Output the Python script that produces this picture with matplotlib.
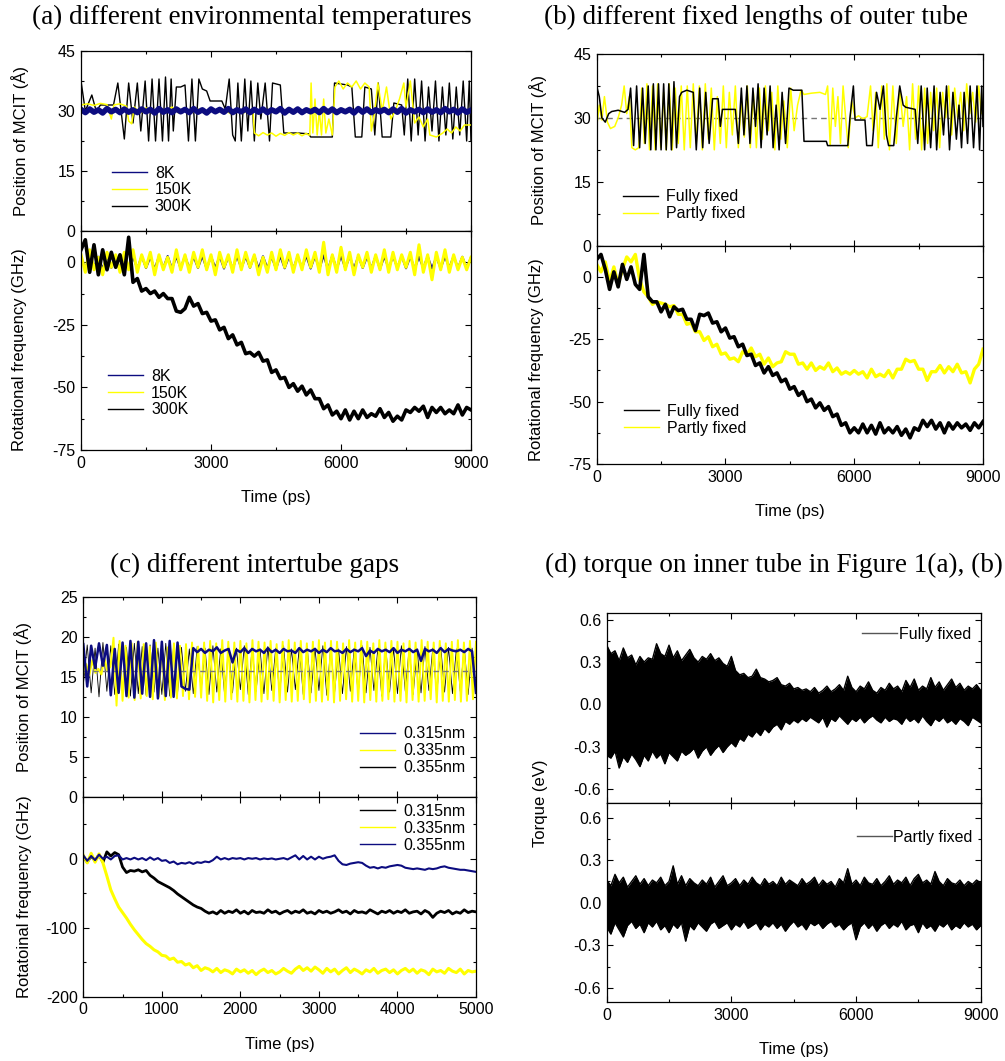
import numpy as np
import matplotlib
matplotlib.use("Agg")
import matplotlib.pyplot as plt
from matplotlib.ticker import MultipleLocator, FormatStrFormatter

plt.rcParams['font.family'] = ['Liberation Sans', 'DejaVu Sans']
plt.rcParams['axes.unicode_minus'] = False

NAVY = '#0c0c80'
YELLOW = '#ffff00'

# ---------------- (a) environmental temperatures ----------------
# position of MCIT, 300K (turning points)
a_pos_300_t = [0, 100, 250, 350, 450, 750, 850, 1000, 1100, 1200, 1300, 1380, 1480, 1560, 1640, 1720,
               1800, 1880, 1950, 2020, 2080, 2130, 2200, 2300, 2400, 2480, 2560, 2640, 2720, 2800, 2900,
               2980, 3250, 3330, 3420, 3500, 3560, 3620, 3700, 3780, 3850, 3920, 4000, 4080, 4150, 4250,
               4350, 4420, 4600, 4680, 5000, 5250, 5300, 5800, 5850, 6150, 6250, 6330, 6480, 6550, 6700,
               6780, 6860, 6950, 7150, 7220, 7400, 7460, 7540, 7620, 7700, 7780, 7860, 7940, 8020, 8100,
               8180, 8260, 8340, 8420, 8500, 8580, 8660, 8740, 8820, 8900, 8960, 9000]
a_pos_300 = [37.5, 30, 34, 30, 31.5, 31.5, 37, 23, 37, 27, 37, 25, 37.5, 22.5, 38, 22.5,
             38, 22.5, 38.5, 22.5, 38, 25, 36, 36, 36.5, 22.5, 38, 22.5, 38, 35.5, 35,
             32.5, 32.5, 30.5, 38, 24, 22.5, 37, 22.5, 38, 25, 37.5, 22.5, 37, 28, 37,
             22.5, 37, 36.5, 24.5, 24.5, 24.3, 23.5, 23.5, 37, 36.5, 36, 23.5, 23.5, 36, 35.5,
             24, 37, 23.5, 23.5, 32, 31.5, 24, 38, 22.5, 38, 24, 37.5, 22.5, 36, 25,
             37.5, 22.5, 36, 24, 37, 23, 36, 24, 37.5, 22.5, 37.5, 22.5]
# position of MCIT, 150K (turning points)
a_pos_150_t = [0, 150, 300, 450, 600, 700, 760, 900, 1050, 1100, 1170, 1230, 1300, 1400, 1500, 1650,
               1800, 1950, 2100, 2250, 2400, 2550, 2700, 2850, 3000, 3150, 3300, 3450, 3600, 3750, 3900,
               3970, 4000, 4100, 4200, 4300, 4400, 4500, 4600, 4700, 4800, 4900, 5000, 5100, 5200, 5250,
               5280, 5310, 5350, 5400, 5450, 5500, 5550, 5600, 5650, 5720, 5800, 5860, 5950, 6050, 6150,
               6250, 6350, 6450, 6550, 6650, 6700, 6780, 6850, 6950, 7050, 7150, 7250, 7350, 7450, 7500,
               7600, 7700, 7800, 7900, 8000, 8050, 8200, 8350, 8450, 8550, 8650, 8750, 8850, 9000]
a_pos_150 = [31.5, 31.8, 31.4, 31.9, 31.6, 28, 31.5, 31.8, 31.2, 27.5, 26.8, 31, 30.2, 29.6, 30.8, 29.4,
             30.6, 29.8, 31, 29.5, 30.7, 29.6, 30.5, 29.4, 30.8, 29.7, 30.4, 29.3, 30.6, 29.5, 30.3,
             29.8, 24.5, 23.8, 24.6, 24, 24.5, 23.7, 24.4, 23.9, 24.6, 24, 24.5, 23.8, 24.4, 24,
             24, 37, 24.5, 33, 24, 30, 24, 33, 24.5, 28, 24, 36, 37.5, 35.5, 37,
             36, 37.5, 35.5, 37, 36, 25, 30, 37, 30, 36, 28, 30, 33, 37, 31,
             37.5, 27, 28.5, 26, 28, 24, 23.5, 24.5, 25.5, 24.5, 26, 25, 26.5, 26.5]
# position of MCIT, 8K (every 100 ps)
a_pos_8 = [30.4, 29.6, 30.5, 29.7, 30.3, 29.5, 30.6, 29.8, 30.4, 29.6,
           30.5, 29.7, 30.3, 29.6, 30.5, 29.8, 30.4, 29.5, 30.6, 29.7,
           30.3, 29.6, 30.5, 29.8, 30.4, 29.6, 30.6, 29.7, 30.3, 29.5,
           30.5, 29.8, 30.4, 29.7, 30.6, 29.6, 30.3, 29.8, 30.5, 29.6,
           30.4, 29.7, 30.5, 29.6, 30.3, 29.8, 30.6, 29.5, 30.4, 29.7,
           30.5, 29.6, 30.3, 29.8, 30.4, 29.6, 30.6, 29.7, 30.5, 29.6,
           30.3, 29.8, 30.4, 29.5, 30.6, 29.7, 30.5, 29.6, 30.3, 29.8,
           30.4, 29.6, 30.5, 29.7, 30.6, 29.5, 30.3, 29.8, 30.4, 29.6,
           30.5, 29.7, 30.3, 29.6, 30.6, 29.8, 30.4, 29.5, 30.5, 29.7, 30.2]
# rotational frequency (GHz), every 100 ps
a_rot_8 = [2, -2.5, 2.5, -2, 2.2, -2.6, 2.4, -2.2, 2, -2.5,
           2.6, -2.4, 2.2, -2.6, 2.5, -2.3, 2.1, -2.7, 2.4, -2.2,
           2.5, -2.6, 2.3, -2.4, 2.6, -2.5, 2.2, -2.3, 2.5, -2.6,
           2.3, -2.2, 2.4, -2.5, 2.2, -2.6, 2.5, -2.4, 2.3, -2.2,
           2.6, -2.5, 2.4, -2.3, 2.2, -2.6, 2.5, -2.4, 2.3, -2.5,
           2.4, -2.2, 2.6, -2.5, 2.5, -2.7, 2.8, -2.9, 2.7, -2.8,
           2.6, -2.4, 2.3, -2.5, 2.5, -2.3, 2.2, -2.4, 2.5, -2.6,
           2.3, -2.5, 2.4, -2.2, 2.5, -2.4, 2.3, -2.6, 2.2, -2.3,
           2.4, -2.5, 2.2, -2.4, 2.3, -2.2, 2.5, -2.4, 2.2, -2.3, 2]
a_rot_150 = [3, -4, 5, -3, 2, -5, 4, -2, 3, -4,
             4, -3, 5, -4, 3, -2, 4, -5, 3, -3,
             2, -4, 5, -3, 3, -4, 4, -2, 5, -3,
             3, -5, 4, -2, 3, -4, 5, -3, 4, -2,
             3, -5, 2, -4, 4, -3, 5, -2, 4, -4,
             3, -3, 5, -2, 4, -4, 8, -5, 3, -4,
             6, -3, 4, -5, 3, -2, 4, -4, 3, -3,
             5, -4, 4, -3, 3, -2, 4, -5, 7, -4,
             3, -7, 4, -3, 5, -4, 3, -3, 2, -3, 2]
a_rot_300 = [5, 9, -4, 7, -5, 5, -3, 4, -2, 3,
             -5, 10, -8, -6.5, -11.5, -10.5, -12.5, -11.5, -14, -12.5,
             -14.5, -14.5, -19.5, -20, -18.5, -14, -17.5, -16.5, -20.5, -20,
             -23.5, -23, -27, -26, -30.5, -29, -33, -32, -36.5, -36,
             -37.5, -36, -39.5, -39, -44, -43, -46.5, -46, -50, -48.5,
             -51.5, -49.5, -53, -51, -54.5, -54.5, -58.5, -57, -61, -59.5,
             -62.5, -59, -63, -59.5, -62.5, -59, -62, -60.5, -61.5, -58.5,
             -62, -60, -63.5, -61.5, -63, -59, -60, -58, -59.5, -57.5,
             -62, -58, -60, -58, -60.5, -59, -60.5, -57, -61, -58, -59]

# ---------------- (b) fixed lengths of outer tube ----------------
b_pos_full_t = [0, 60, 120, 200, 280, 350, 500, 650, 730, 790, 860, 930, 1000, 1070, 1130, 1200,
                1260, 1320, 1380, 1440, 1500, 1560, 1620, 1680, 1740, 1800, 1860, 1930, 1980, 2100,
                2250, 2320, 2400, 2470, 2540, 2620, 2700, 2830, 2880, 2930, 3230, 3300, 3370, 3430,
                3500, 3570, 3640, 3700, 3760, 3830, 3900, 3970, 4040, 4110, 4180, 4250, 4320, 4400,
                4480, 4580, 4780, 4830, 5350, 5380, 5850, 5900, 5980, 6020, 6250, 6290, 6420, 6520,
                6600, 6680, 6750, 6800, 6920, 6980, 7060, 7140, 7200, 7420, 7480, 7560, 7640, 7700,
                7780, 7860, 7920, 8000, 8080, 8150, 8220, 8300, 8380, 8440, 8500, 8560, 8640, 8700,
                8780, 8860, 8920, 8970, 9000]
b_pos_full = [37.5, 35, 30, 29, 31, 31.5, 31.8, 31.3, 32, 37, 23.5, 37.5, 23, 37, 24, 37.5,
              22.5, 38, 22.5, 38, 22.5, 38, 22.5, 38, 22.5, 38.5, 23, 35, 36, 36.5,
              36, 22.5, 37, 23, 36, 24, 34.5, 34.5, 28, 32, 32, 24, 37, 26,
              37.5, 24, 37, 28, 38, 23, 37, 26, 37.5, 23, 33, 22.5, 36, 24,
              37, 36.5, 36.5, 24.5, 24.5, 23.5, 23.5, 30, 37.5, 29.5, 29.5, 23.5, 23.5, 36,
              32, 37.5, 26, 23.5, 23.5, 30, 37.5, 33, 32.5, 32, 24, 37.5, 22.5, 37,
              23, 37.5, 22.5, 36, 26, 37.5, 22.5, 36, 25, 33, 23, 36, 24, 37.5,
              23, 37.5, 22.5, 37.5, 28]
b_pos_part_t = [0, 60, 120, 180, 250, 320, 420, 500, 580, 640, 700, 760, 820, 900, 980, 1050,
                1110, 1170, 1230, 1300, 1360, 1420, 1490, 1560, 1620, 1690, 1760, 1830, 1900, 1970,
                2040, 2110, 2180, 2250, 2320, 2390, 2460, 2530, 2600, 2670, 2740, 2810, 2880, 2950,
                3020, 3090, 3160, 3230, 3300, 3370, 3440, 3510, 3580, 3650, 3720, 3790, 3860, 3930,
                4000, 4080, 4150, 4220, 4290, 4360, 4440, 4520, 4600, 4680, 4760, 4830, 5000, 5200,
                5330, 5380, 5440, 5500, 5560, 5620, 5680, 5740, 5800, 5860, 5940, 6020, 6100, 6200,
                6300, 6380, 6440, 6500, 6560, 6640, 6700, 6760, 6820, 6900, 6980, 7060, 7140, 7220,
                7290, 7360, 7430, 7500, 7570, 7640, 7710, 7780, 7850, 7920, 7990, 8060, 8130, 8200,
                8270, 8340, 8410, 8480, 8550, 8620, 8690, 8760, 8830, 8900, 8960, 9000]
b_pos_part = [28, 33, 29.5, 35, 29, 27.5, 28, 30, 33, 37.5, 31, 35, 23, 22.5, 23, 37,
              24, 38, 22.5, 37.5, 22.5, 38, 23, 36, 22.5, 38, 22.5, 37, 24, 37.5,
              22.5, 37.5, 23, 38, 24, 37.5, 22.5, 38, 25, 37, 22.5, 35, 24, 37.5,
              23, 36, 26, 37.5, 23, 34, 25.5, 37.5, 23, 36, 23, 37, 25, 37.5,
              27, 36, 22.5, 37.5, 25, 34, 23, 37, 27, 33, 36.5, 35.5, 35.8, 36,
              35.5, 37.5, 23.5, 37, 28, 35, 24, 37.5, 30, 23, 34, 30, 30.5, 29.8,
              30.3, 37.5, 27, 36, 23, 37.5, 25, 38, 22.5, 37.5, 24, 37, 28, 35,
              22.5, 38, 25, 37.5, 22.5, 37, 24, 36, 27, 37, 23, 36, 30, 37.5,
              26, 37, 30, 36, 27, 38, 31, 36, 29, 37.5, 31, 32.5]
b_rot_full = [7, 9, 3, -5, 2, -4, 5, -1, 4, -3,
              -5, 9, -8, -10, -10, -14, -11, -16, -12, -13.5,
              -13, -17, -17, -21.5, -15, -15.5, -14.5, -18.5, -18, -22,
              -20.5, -24.5, -24, -28, -27, -31.5, -31, -35.5, -34.5, -38.5,
              -36, -39.5, -38.5, -42, -41, -45, -44, -47.5, -46, -50,
              -49, -52.5, -50.5, -53.5, -52, -56, -55, -59.5, -58.5, -62.5,
              -60.5, -62.5, -59, -62.5, -59.5, -63, -58.5, -62.5, -60.5, -62.5,
              -60, -63.5, -61, -64.5, -60.5, -61.5, -57.5, -60, -57.5, -61,
              -58.5, -62.5, -58.5, -61, -58.5, -60.5, -59, -61.5, -58.5, -60.5, -58]
b_rot_part = [5, 2, 6, -2, 4, -3, 3, 8, 6, 9,
              -1, -6, -8, -11, -10, -10.5, -11, -12, -11.5, -15,
              -15, -19, -18.5, -22, -22, -25.5, -24, -28, -27, -31,
              -30.5, -33, -32.5, -34, -30, -31, -28.5, -32, -31, -35,
              -32.5, -36, -34.5, -34, -30, -31, -31, -35, -34.5, -37,
              -34.5, -37.5, -36, -37, -34.5, -38, -36.5, -39, -38, -39,
              -37.5, -39, -38, -40.5, -37, -40, -39, -40, -37.5, -40.5,
              -37, -37, -33, -34, -33.5, -37, -37, -41.5, -38, -38,
              -35.5, -38.5, -36, -38, -35, -38.5, -38, -42.5, -37, -35, -29]

# ---------------- (c) intertube gaps ----------------
c_pos_335 = [15.4, 16.6, 15.2, 17.1, 15.5, 16.0, 15.3, 17.4, 15.7, 16.3,
             19.9, 11.4, 19.5, 12.0, 18.9, 12.4, 19.2, 12.1, 19.4,
             12.3, 19.1, 12.6, 18.8, 12.2, 19.3, 12.5, 19.0, 12.1, 18.7, 12.4, 19.2, 12.3, 18.9,
             12.6, 19.1, 12.2, 19.3, 12.5, 18.8, 12.4,
             19.3, 12.0, 19.5, 11.8, 19.2, 12.1, 19.6, 11.9, 19.4, 12.2, 19.3, 11.9, 19.5, 12.0,
             19.2, 11.8, 19.6, 12.1, 19.4, 11.9, 19.3, 12.2, 19.5, 12.0, 19.1, 11.8, 19.4, 12.1,
             19.6, 11.9, 19.3, 12.0, 19.5, 12.2, 19.2, 11.8, 19.4, 12.0, 19.6, 11.9, 19.3, 12.1,
             19.5, 11.8, 19.4, 12.0, 19.2, 12.2, 19.6, 11.9, 19.3, 12.0, 19.5, 11.8, 19.4, 12.1,
             19.2, 11.9, 19.6, 12.0, 19.3, 12.2, 19.5, 11.9, 19.4, 12.0, 19.2, 11.8, 19.5, 12.1,
             19.3, 11.9, 19.6, 12.0, 19.4, 12.2, 19.3, 11.8, 19.5, 12.0, 19.2, 11.9, 19.4, 12.1,
             19.6, 11.9, 19.3, 12.0, 19.5, 12.2, 19.4]
c_pos_315 = [19.1, 13.8, 18.9, 16.1, 19.2, 16.4, 19.0, 12.7, 18.5, 13.0, 19.3, 12.6, 19.5,
             12.4, 19.4, 12.9, 19.2, 12.5, 19.6, 12.3, 19.4, 12.6, 19.5, 12.5, 19.3,
             13.8, 13.5, 13.4,
             18.6, 18.1, 18.5, 18.0, 18.4, 18.2, 18.7, 18.0, 18.3, 18.5,
             16.8, 18.4, 18.1, 18.6, 18.0, 18.5, 18.2, 18.4, 18.0, 18.6,
             18.1, 18.4, 18.0, 18.5, 18.2, 18.3, 18.0, 18.6, 18.1, 18.4,
             18.2, 18.5, 18.0, 18.4, 18.1, 18.6, 18.2, 18.3, 18.0, 18.5,
             18.1, 18.4, 18.2, 18.6, 17.6, 18.3, 18.0, 18.5, 18.2, 18.4,
             18.1, 18.6, 18.0, 18.4, 18.2, 18.5, 18.1, 18.4, 17.0, 18.5,
             18.2, 18.4, 18.0, 18.6, 18.1, 18.5, 18.3, 18.2, 18.4, 18.1,
             18.5, 18.2, 13.0]
c_pos_355 = [14.0, 19.0, 13.0, 18.6, 12.5, 19.3, 13.2, 18.9, 12.8, 19.1, 13.0, 18.7, 12.6,
             19.2, 12.9, 18.8, 12.7, 19.0, 13.1, 18.6, 12.8, 19.2, 12.6, 18.9, 13.0, 18.7,
             13.2, 18.5, 12.9, 18.8, 13.3, 18.6, 12.8, 18.9, 13.1, 18.5, 12.7, 18.8, 13.0,
             18.6, 13.4, 18.9, 12.8, 18.7, 13.2, 18.5, 12.9, 18.8, 13.3, 18.6, 12.7, 18.9,
             13.1, 18.5, 13.4, 18.7, 12.8, 18.8, 13.0, 18.6, 13.3, 18.9, 12.7, 18.7, 13.1,
             18.5, 12.9, 18.8, 13.2, 18.6, 12.8, 18.9, 13.0, 18.7, 13.3, 18.5, 12.6, 18.8,
             13.1, 18.6, 12.9, 18.9, 13.2, 18.7, 12.8, 18.5, 13.0, 18.8, 13.3, 18.6, 12.7,
             18.9, 13.1, 18.7, 12.9, 18.5, 13.2, 18.8, 12.8, 18.6, 13.0]
c_rot_355 = [5, -3, 4, -2, 6, 0, 3, -1, 4, 5, -1, 1, -1, 1.5, -1, 1, -2, 2, -1.5, 1,
             -3, -2, -6, -4, -8, -6, -7, -5, -7.5, -5, -6, -4, -5, -2, 3, -1, 1, -1, 1, 0,
             1, -1, 1, 0, 1, -1, 0.5, -0.5, 0.5, -1, 0, 1, -1, 2, 5, -1, 4, -1, 3, -1,
             3, 0, 2, 3, 5, -3, -8, -9, -7, -6, -5, -6, -10, -13, -12, -14, -12, -13, -11, -10,
             -9, -10, -13, -14, -15, -14, -15, -16, -14, -15, -14, -12, -11, -13, -14, -15, -16, -16,
             -17, -18, -19]
c_rot_315 = [3, -5, 4, -3, 6, -5, 10, 4, 9, 6, -12, -20, -17, -18, -16, -19, -17, -24, -28, -33,
             -36, -39, -42, -46, -51, -55, -59, -63, -67, -70, -72, -76, -79, -77, -80, -75, -79, -76, -78, -74,
             -79, -76, -80, -75, -78, -77, -79, -74, -78, -76, -80, -77, -75, -79, -76, -78, -74, -79, -77, -80,
             -75, -78, -76, -79, -77, -74, -78, -76, -80, -75, -78, -77, -79, -74, -77, -80, -76, -78, -75, -79,
             -76, -78, -74, -79, -77, -76, -80, -75, -78, -85, -79, -76, -78, -75, -80, -77, -79, -74, -78, -76,
             -77]
c_rot_335 = [5, -6, 8, -5, 7, -6, -25, -45, -58, -70, -78, -86, -95, -103, -110, -117, -123, -127, -132, -135,
             -140, -141, -146, -144, -150, -149, -154, -152, -158, -155, -162, -158, -160, -164, -159, -165, -161, -163, -167, -160,
             -164, -161, -166, -162, -168, -163, -160, -165, -162, -167, -164, -159, -163, -166, -160, -156, -162, -158, -163, -157,
             -161, -166, -159, -164, -160, -167, -162, -158, -165, -160, -163, -167, -161, -164, -159, -166, -162, -160, -165, -161,
             -167, -162, -159, -164, -160, -166, -161, -163, -168, -160, -164, -162, -166, -159, -163, -165, -160, -167, -162, -164,
             -163]

# ---------------- (d) torque on inner tube (envelopes, every 100 ps) ----------------
d_full_hi = [0.42, 0.36, 0.38, 0.31, 0.40, 0.33, 0.35, 0.28, 0.34, 0.30,
             0.33, 0.32, 0.43, 0.36, 0.34, 0.42, 0.33, 0.38, 0.31, 0.35,
             0.39, 0.33, 0.30, 0.34, 0.32, 0.36, 0.31, 0.33, 0.29, 0.27,
             0.34, 0.24, 0.21, 0.22, 0.19, 0.20, 0.25, 0.19, 0.18, 0.16,
             0.17, 0.19, 0.14, 0.13, 0.15, 0.11, 0.12, 0.10, 0.11, 0.09,
             0.12, 0.08, 0.10, 0.13, 0.09, 0.11, 0.14, 0.10, 0.20, 0.12,
             0.09, 0.13, 0.11, 0.16, 0.10, 0.08, 0.12, 0.10, 0.15, 0.11,
             0.13, 0.09, 0.17, 0.12, 0.18, 0.10, 0.13, 0.11, 0.19, 0.12,
             0.16, 0.10, 0.14, 0.18, 0.12, 0.15, 0.10, 0.13, 0.11, 0.14, 0.10]
d_full_lo = [-0.36, -0.38, -0.33, -0.45, -0.37, -0.41, -0.35, -0.39, -0.44, -0.36,
             -0.40, -0.33, -0.38, -0.35, -0.42, -0.34, -0.37, -0.40, -0.33, -0.36,
             -0.34, -0.31, -0.38, -0.33, -0.30, -0.36, -0.32, -0.29, -0.34, -0.30,
             -0.27, -0.30, -0.24, -0.26, -0.21, -0.23, -0.19, -0.22, -0.17, -0.20,
             -0.16, -0.14, -0.18, -0.12, -0.14, -0.11, -0.13, -0.10, -0.12, -0.09,
             -0.11, -0.13, -0.09, -0.16, -0.10, -0.12, -0.08, -0.11, -0.14, -0.10,
             -0.12, -0.09, -0.13, -0.10, -0.08, -0.11, -0.13, -0.09, -0.12, -0.10,
             -0.11, -0.14, -0.09, -0.12, -0.10, -0.13, -0.08, -0.12, -0.15, -0.10,
             -0.12, -0.09, -0.13, -0.11, -0.14, -0.10, -0.12, -0.15, -0.09, -0.11, -0.13]
d_part_hi = [0.16, 0.12, 0.20, 0.14, 0.18, 0.11, 0.15, 0.19, 0.13, 0.17,
             0.12, 0.16, 0.14, 0.18, 0.12, 0.15, 0.26, 0.13, 0.19, 0.12,
             0.17, 0.14, 0.12, 0.16, 0.13, 0.18, 0.11, 0.15, 0.19, 0.12,
             0.14, 0.17, 0.12, 0.16, 0.13, 0.18, 0.14, 0.12, 0.17, 0.13,
             0.15, 0.12, 0.18, 0.13, 0.16, 0.14, 0.12, 0.17, 0.13, 0.15,
             0.18, 0.12, 0.16, 0.13, 0.15, 0.11, 0.17, 0.14, 0.24, 0.13,
             0.16, 0.12, 0.18, 0.14, 0.13, 0.17, 0.12, 0.15, 0.19, 0.13,
             0.16, 0.14, 0.18, 0.12, 0.17, 0.20, 0.14, 0.16, 0.13, 0.22,
             0.15, 0.12, 0.17, 0.14, 0.13, 0.16, 0.12, 0.15, 0.13, 0.16, 0.14]
d_part_lo = [-0.17, -0.22, -0.14, -0.19, -0.24, -0.16, -0.13, -0.18, -0.15, -0.21,
             -0.14, -0.17, -0.13, -0.19, -0.16, -0.21, -0.15, -0.18, -0.14, -0.27,
             -0.16, -0.19, -0.14, -0.17, -0.20, -0.15, -0.13, -0.18, -0.16, -0.14,
             -0.19, -0.15, -0.17, -0.13, -0.18, -0.16, -0.14, -0.19, -0.15, -0.17,
             -0.14, -0.18, -0.15, -0.20, -0.16, -0.13, -0.17, -0.15, -0.19, -0.14,
             -0.16, -0.14, -0.18, -0.15, -0.13, -0.17, -0.15, -0.19, -0.16, -0.14,
             -0.26, -0.17, -0.14, -0.18, -0.15, -0.20, -0.16, -0.14, -0.18, -0.15,
             -0.17, -0.13, -0.19, -0.16, -0.15, -0.21, -0.14, -0.18, -0.16, -0.20,
             -0.15, -0.17, -0.14, -0.19, -0.16, -0.18, -0.14, -0.17, -0.15, -0.19, -0.16]

W, H = 1005, 1061
fig = plt.figure(figsize=(W / 100, H / 100), dpi=100)


def box(x0, x1, y0, y1):
    # pixel box -> figure fraction
    return [x0 / W, 1 - y1 / H, (x1 - x0) / W, (y1 - y0) / H]


def style(ax, xmax, xmaj, ylim, ymaj, fmt=None, xlabels=True):
    ax.set_xlim(0, xmax)
    ax.set_ylim(*ylim)
    ax.xaxis.set_major_locator(MultipleLocator(xmaj))
    ax.xaxis.set_minor_locator(MultipleLocator(xmaj / 2))
    ax.yaxis.set_major_locator(MultipleLocator(ymaj))
    ax.yaxis.set_minor_locator(MultipleLocator(ymaj / 2))
    if fmt:
        ax.yaxis.set_major_formatter(FormatStrFormatter(fmt))
    ax.tick_params(which='both', direction='in', top=True, right=True, labelsize=11.5, pad=4)
    ax.tick_params(which='major', length=4, width=0.8)
    ax.tick_params(which='minor', length=2.5, width=0.8)
    if not xlabels:
        ax.tick_params(labelbottom=False)
    for s in ax.spines.values():
        s.set_linewidth(0.9)


def tgrid(vals, tmax):
    return np.linspace(0, tmax, len(vals))


def leg(ax, x, y, reverse=False):
    h, l = ax.get_legend_handles_labels()
    if reverse:
        h, l = h[::-1], l[::-1]
    lg = ax.legend(h, l, loc='center left', bbox_to_anchor=(x, y), frameon=False, fontsize=11.5,
                   borderpad=0, borderaxespad=0, handlelength=2.2, handletextpad=0.5, labelspacing=0.12)
    for hl in lg.get_lines():
        hl.set_linewidth(1.0)


serif = dict(family=['Liberation Serif', 'DejaVu Serif'], fontsize=19.5)
lab = dict(fontsize=12)

# ---- (a) ----
ax = fig.add_axes(box(81, 471, 51, 231))
ax.plot(a_pos_300_t, a_pos_300, color='black', lw=1.0, label='300K')
ax.plot(a_pos_150_t, a_pos_150, color=YELLOW, lw=1.1, label='150K')
ax.plot(tgrid(a_pos_8, 9000), a_pos_8, color=NAVY, lw=4, label='8K')
style(ax, 9000, 3000, (0, 45), 15, xlabels=False)
leg(ax, 0.079, 0.228, reverse=True)

ax = fig.add_axes(box(81, 471, 231, 450))
ax.plot(tgrid(a_rot_8, 9000), a_rot_8, color=NAVY, lw=1.5, label='8K')
ax.plot(tgrid(a_rot_150, 9000), a_rot_150, color=YELLOW, lw=2.2, label='150K')
ax.plot(tgrid(a_rot_300, 9000), a_rot_300, color='black', lw=2.6, label='300K')
style(ax, 9000, 3000, (-75, 12.5), 25)
leg(ax, 0.069, 0.26)
ax.set_xlabel('Time (ps)', **lab, labelpad=14)

fig.text(252 / W, 1 - 17 / H, '(a) different environmental temperatures', ha='center', va='center', **serif)
fig.text(20 / W, 1 - 141 / H, 'Position of MCIT (\u00c5)', rotation=90, ha='center', va='center', **lab)
fig.text(20 / W, 1 - 350 / H, 'Rotational frequency (GHz)', rotation=90, ha='center', va='center', **lab)

# ---- (b) ----
ax = fig.add_axes(box(596.7, 983, 54, 245.7))
ax.axhline(30, color='#777777', lw=1.0, ls=(0, (4, 3)))
ax.plot(b_pos_part_t, b_pos_part, color=YELLOW, lw=1.1, label='Partly fixed')
ax.plot(b_pos_full_t, b_pos_full, color='black', lw=1.1, label='Fully fixed')
style(ax, 9000, 3000, (0, 45), 15, xlabels=False)
leg(ax, 0.068, 0.21, reverse=True)

ax = fig.add_axes(box(596.7, 983, 245.7, 464))
ax.plot(tgrid(b_rot_part, 9000), b_rot_part, color=YELLOW, lw=2.4, label='Partly fixed')
ax.plot(tgrid(b_rot_full, 9000), b_rot_full, color='black', lw=2.6, label='Fully fixed')
style(ax, 9000, 3000, (-75, 12.5), 25)
leg(ax, 0.071, 0.203, reverse=True)
ax.set_xlabel('Time (ps)', **lab, labelpad=14)

fig.text(756 / W, 1 - 17 / H, '(b) different fixed lengths of outer tube', ha='center', va='center', **serif)
fig.text(538 / W, 1 - 150 / H, 'Position of MCIT (\u00c5)', rotation=90, ha='center', va='center', **lab)
fig.text(537 / W, 1 - 360 / H, 'Rotational frequency (GHz)', rotation=90, ha='center', va='center', **lab)

# ---- (c) ----
ax = fig.add_axes(box(83.3, 476, 597, 796.7))
ax.plot(tgrid(c_pos_355, 5000), c_pos_355, color='black', lw=0.6, label='0.355nm')
ax.plot(tgrid(c_pos_335, 5000), c_pos_335, color=YELLOW, lw=1.4, label='0.335nm')
ax.axhline(15.7, color='#777777', lw=1.0, ls=(0, (4, 3)))
ax.plot(tgrid(c_pos_315, 5000), c_pos_315, color=NAVY, lw=1.8, label='0.315nm')
style(ax, 5000, 1000, (0, 25), 5, xlabels=False)
leg(ax, 0.705, 0.23, reverse=True)

ax = fig.add_axes(box(83.3, 476, 796.7, 996.7))
ax.plot(tgrid(c_rot_315, 5000), c_rot_315, color='black', lw=2.0, label='0.315nm')
ax.plot(tgrid(c_rot_335, 5000), c_rot_335, color=YELLOW, lw=2.2, label='0.335nm')
ax.plot(tgrid(c_rot_355, 5000), c_rot_355, color=NAVY, lw=1.5, label='0.355nm')
style(ax, 5000, 1000, (-200, 90), 100)
leg(ax, 0.705, 0.842)
ax.set_xlabel('Time (ps)', **lab, labelpad=14)

fig.text(255 / W, 1 - 565 / H, '(c) different intertube gaps', ha='center', va='center', **serif)
fig.text(23 / W, 1 - 697 / H, 'Position of MCIT (\u00c5)', rotation=90, ha='center', va='center', **lab)
fig.text(25 / W, 1 - 897 / H, 'Rotatoinal frequency (GHz)', rotation=90, ha='center', va='center', **lab)

# ---- (d) ----
for (y0, y1, hi, lo, name, yl, lx, ly) in [
        (612.7, 803.3, d_full_hi, d_full_lo, 'Fully fixed', (-0.7, 0.65), 0.682, 0.887),
        (803.3, 1002.3, d_part_hi, d_part_lo, 'Partly fixed', (-0.7, 0.7), 0.668, 0.829)]:
    ax = fig.add_axes(box(606.7, 980.7, y0, y1))
    t = tgrid(hi, 9000)
    ax.fill_between(t, lo, hi, color='black', lw=0)
    ax.plot(t, hi, color='black', lw=1.0)
    ax.plot(t, lo, color='black', lw=1.0, label=name)
    style(ax, 9000, 3000, yl, 0.3, fmt='%.1f', xlabels=(y1 > 900))
    lg = ax.legend(loc='center left', bbox_to_anchor=(lx, ly), frameon=False, fontsize=11.5, borderpad=0,
                   borderaxespad=0, handlelength=2.2, handletextpad=0.1)
    for hl in lg.get_lines():
        hl.set_color('#555555')
        hl.set_linewidth(1.0)
    if y1 > 900:
        ax.set_xlabel('Time (ps)', **lab, labelpad=14)

fig.text(774 / W, 1 - 565 / H, '(d) torque on inner tube in Figure 1(a), (b)', ha='center', va='center', **serif)
fig.text(541 / W, 1 - 803 / H, 'Torque (eV)', rotation=90, ha='center', va='center', **lab)

fig.savefig('out.png', dpi=100)
